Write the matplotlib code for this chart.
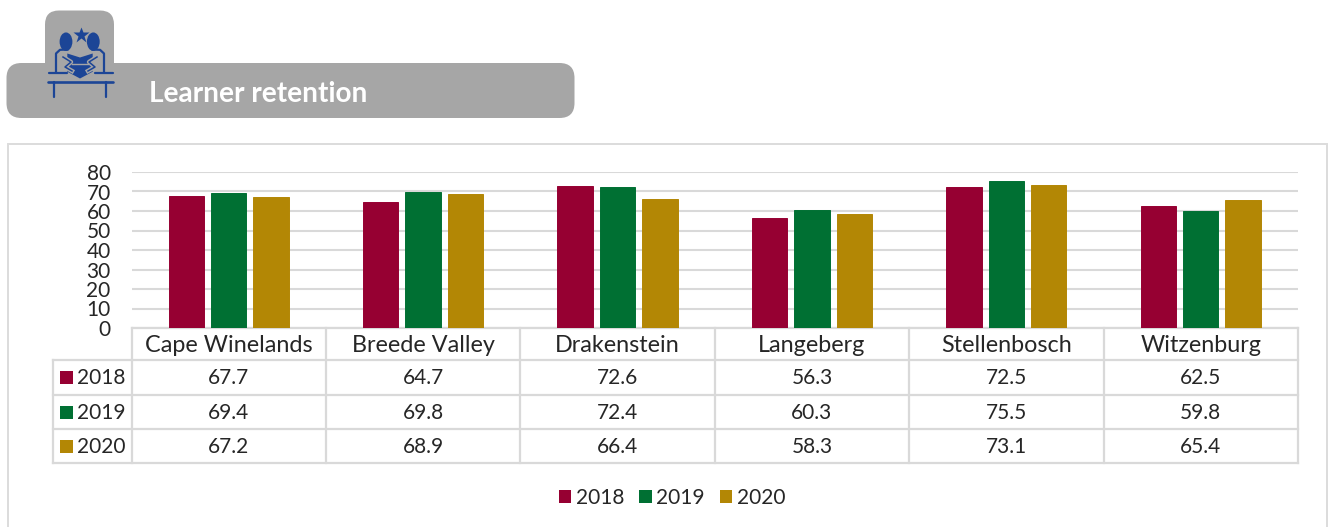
import matplotlib
matplotlib.use("Agg")
import matplotlib.pyplot as plt
from matplotlib.patches import FancyBboxPatch, Rectangle, Ellipse, Polygon, Patch
from matplotlib.transforms import blended_transform_factory

categories = ["Cape Winelands", "Breede Valley", "Drakenstein", "Langeberg", "Stellenbosch", "Witzenburg"]
years = ["2018", "2019", "2020"]
values_2018 = [67.7, 64.7, 72.6, 56.3, 72.5, 62.5]
values_2019 = [69.4, 69.8, 72.4, 60.3, 75.5, 59.8]
values_2020 = [67.2, 68.9, 66.4, 58.3, 73.1, 65.4]
series = [values_2018, values_2019, values_2020]
colors = ["#960032", "#007033", "#b38705"]
yticks = [0, 10, 20, 30, 40, 50, 60, 70, 80]
title = "Learner retention"

W, H = 1330, 527
plt.rcParams["font.family"] = ["Lato", "DejaVu Sans"]
GRID = "#d9d9d9"
TEXT = "#262626"
ICON = "#1c4596"
BANNER = "#a6a6a6"
FS = 15
FS_CAT = 16.8

fig = plt.figure(figsize=(W / 100, H / 100), dpi=100, facecolor="white")

# page-level overlay in pixel coordinates
ov = fig.add_axes([0, 0, 1, 1], zorder=0)
ov.set_xlim(0, W)
ov.set_ylim(H, 0)
ov.axis("off")

# chart axes
left, right, top, bottom = 131.5, 1298, 172, 328
ax = fig.add_axes([left / W, 1 - bottom / H, (right - left) / W, (bottom - top) / H], zorder=2)
ax.patch.set_alpha(0)
for s in ax.spines.values():
    s.set_visible(False)
ax.set_xlim(-0.5, len(categories) - 0.5)
ax.set_ylim(0, 80)
ax.set_yticks(yticks)
ax.set_xticks([])
ax.tick_params(axis="y", length=0, pad=15, labelsize=FS, labelcolor=TEXT)
ax.yaxis.grid(True, color=GRID, lw=1.5)
ax.set_axisbelow(True)

offset = 0.218
bw = 0.182
for j, vals in enumerate(series):
    xs = [i + (j - 1) * offset for i in range(len(categories))]
    ax.bar(xs, vals, width=bw, color=colors[j], edgecolor=colors[j], lw=0.7, zorder=3)

# outer frame (open at the bottom)
ov.plot([8, 8, 1327, 1327], [H, 144, 144, H], color="#dcdcdc", lw=1.4, solid_joinstyle="miter")

# banner
ov.add_patch(FancyBboxPatch((45 + 14, 10.5 + 14), 69 - 28, 70, boxstyle="round,pad=14,rounding_size=14",
                            fc=BANNER, ec="none"))
ov.add_patch(FancyBboxPatch((6.5 + 15, 63 + 15), 568 - 30, 55 - 30, boxstyle="round,pad=15,rounding_size=15",
                            fc=BANNER, ec="none"))
ov.text(149, 94, title, color="white", fontsize=20.2, fontweight="bold", va="center", ha="left")

# icon
ov.add_patch(Ellipse((66, 41.7), 12.8, 18.5, fc=ICON, ec="none"))
ov.add_patch(Ellipse((93.3, 41.7), 12.8, 18.5, fc=ICON, ec="none"))
ov.plot([80.5], [35], marker="*", ms=12, color=ICON, mec="none")
ov.add_patch(Polygon([(67.3, 53.5), (80, 57.5), (92.7, 53.5), (92.7, 71.7), (80, 78.5), (67.3, 71.7)],
                     fc=ICON, ec="none"))
ov.plot([72, 88], [64, 64], color=BANNER, lw=1.0)
ik = dict(color=ICON, solid_capstyle="round", lw=1.6)
ov.plot([49.3, 66.7], [73.3, 73.3], **ik)
ov.plot([95, 112.7], [73.3, 73.3], **ik)
ov.plot([56, 56, 60, 68], [72.7, 53.5, 49.8, 49.5], **ik)
ov.plot([104, 104, 100, 92], [72.7, 53.5, 49.8, 49.5], **ik)
for sgn, x0 in ((1, 63), (-1, 97)):
    xs = [x0, x0 + sgn * 8, x0 + sgn * 2, x0 + sgn * 9]
    ys = [57, 62, 67, 71]
    ov.plot(xs, ys, color=BANNER, lw=3.2)
    ov.plot(xs, ys, color=ICON, lw=1.1)
ov.plot([47.5, 112.7], [82.3, 82.3], color=ICON, lw=1.9, solid_capstyle="round")
ov.plot([54, 54], [82, 97], **ik)
ov.plot([105.7, 105.7], [82, 97], **ik)

# data table
row_edges = [328, 360, 394.5, 429, 463]
col_edges = [left + (right - left) / 6 * i for i in range(7)]
lk = dict(color=GRID, lw=1.6, solid_capstyle="projecting")
ov.plot([left, right], [row_edges[0]] * 2, zorder=5, **lk)
ov.plot([left, right], [row_edges[1]] * 2, **lk)
for y in row_edges[2:]:
    ov.plot([53, right], [y, y], **lk)
ov.plot([53, 53], [row_edges[1], row_edges[4]], **lk)
ov.plot([53, left], [row_edges[1], row_edges[1]], **lk)
for x in col_edges:
    ov.plot([x, x], [row_edges[0], row_edges[4]], **lk)

tr = blended_transform_factory(ax.transData, ov.transData)
for i, c in enumerate(categories):
    ov.text(i, 345, c, transform=tr, ha="center", va="center", fontsize=FS_CAT, color=TEXT)
row_y = [378, 413, 447]
for j, vals in enumerate(series):
    ov.add_patch(Rectangle((60, row_y[j] - 7), 12.5, 12.5, fc=colors[j], ec="none"))
    ov.text(77, row_y[j], years[j], ha="left", va="center", fontsize=FS, color=TEXT)
    for i, v in enumerate(vals):
        ov.text(i, row_y[j], f"{v:.1f}", transform=tr, ha="center", va="center", fontsize=FS, color=TEXT)

# legend
handles = [Patch(fc=c, ec="none", label=y) for c, y in zip(colors, years)]
fig.legend(handles=handles, loc="center", bbox_to_anchor=(672 / W, 1 - 498 / H), ncol=3, frameon=False,
           fontsize=FS, handlelength=0.6, handleheight=0.6, handletextpad=0.22, columnspacing=0.72,
           labelcolor=TEXT, borderpad=0)

fig.savefig("out.png", dpi=100, facecolor="white")
